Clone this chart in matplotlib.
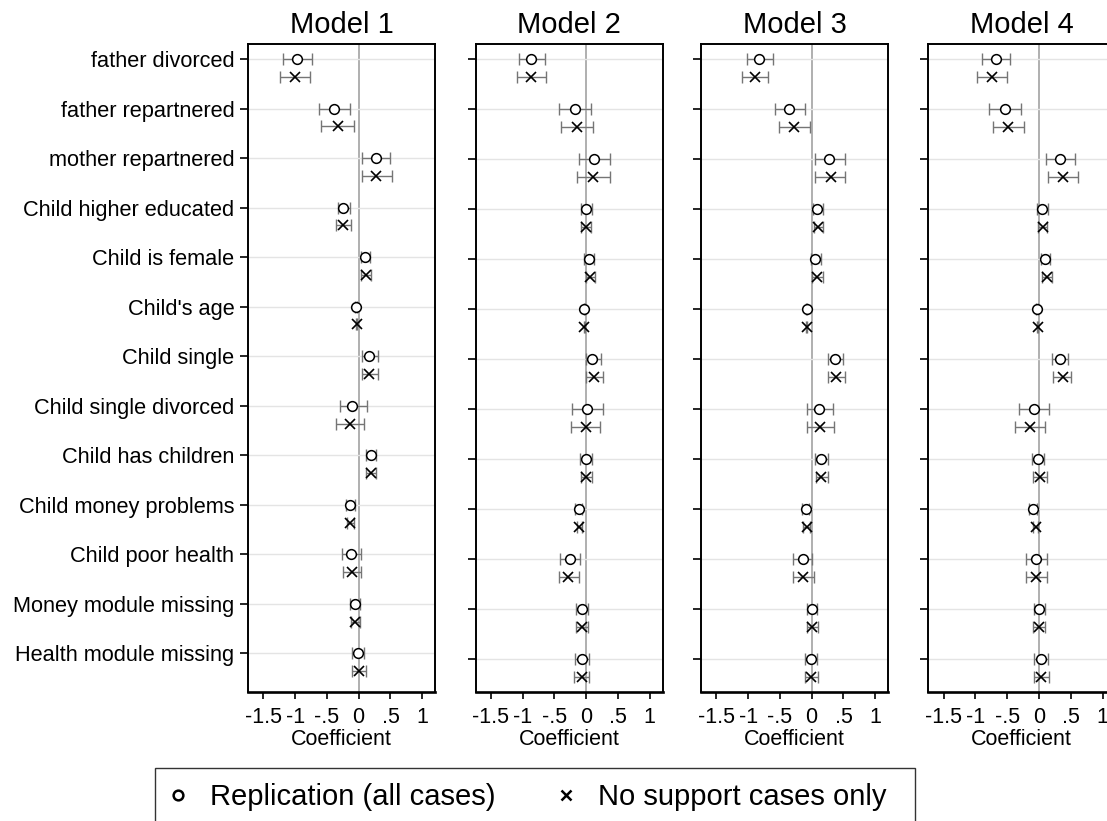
import matplotlib
matplotlib.use("Agg")
import matplotlib.pyplot as plt
from matplotlib.lines import Line2D
from matplotlib.patches import Rectangle
import numpy as np

plt.rcParams['font.family'] = ['Liberation Sans', 'DejaVu Sans']

variables = [
    "father divorced", "father repartnered", "mother repartnered",
    "Child higher educated", "Child is female", "Child's age",
    "Child single", "Child single divorced", "Child has children",
    "Child money problems", "Child poor health", "Money module missing",
    "Health module missing",
]
model_titles = ["Model 1", "Model 2", "Model 3", "Model 4"]
xtick_values = [-1.5, -1, -0.5, 0, 0.5, 1]
xtick_labels = ["-1.5", "-1", "-.5", "0", ".5", "1"]
legend_labels = ["Replication (all cases)", "No support cases only"]

# Model 1 -- replication (all cases)
m1_rep_coef = [-0.97, -0.39, 0.27, -0.24, 0.10, -0.04, 0.17, -0.10, 0.19, -0.13, -0.12, -0.06, -0.01]
m1_rep_lo   = [-1.19, -0.63, 0.05, -0.33, 0.03, -0.055, 0.05, -0.30, 0.12, -0.20, -0.26, -0.14, -0.11]
m1_rep_hi   = [-0.74, -0.14, 0.50, -0.14, 0.18, -0.025, 0.30, 0.13, 0.27, -0.06, 0.03, 0.02, 0.09]
# Model 1 -- no support cases only
m1_ns_coef = [-1.00, -0.33, 0.28, -0.24, 0.11, -0.03, 0.17, -0.14, 0.19, -0.13, -0.11, -0.05, 0.00]
m1_ns_lo   = [-1.23, -0.59, 0.05, -0.35, 0.03, -0.04, 0.05, -0.35, 0.11, -0.18, -0.25, -0.12, -0.11]
m1_ns_hi   = [-0.77, -0.07, 0.52, -0.12, 0.19, -0.02, 0.31, 0.08, 0.28, -0.07, 0.03, 0.02, 0.11]

# Model 2
m2_rep_coef = [-0.86, -0.17, 0.13, 0.00, 0.04, -0.03, 0.09, 0.01, -0.01, -0.11, -0.26, -0.07, -0.07]
m2_rep_lo   = [-1.06, -0.42, -0.11, -0.08, -0.04, -0.04, -0.01, -0.23, -0.10, -0.17, -0.41, -0.16, -0.17]
m2_rep_hi   = [-0.64, 0.08, 0.37, 0.09, 0.12, -0.02, 0.23, 0.26, 0.09, -0.06, -0.10, 0.03, 0.04]
m2_ns_coef = [-0.87, -0.15, 0.11, 0.00, 0.06, -0.03, 0.13, -0.01, 0.00, -0.11, -0.28, -0.06, -0.07]
m2_ns_lo   = [-1.09, -0.40, -0.14, -0.08, -0.01, -0.04, 0.00, -0.24, -0.08, -0.15, -0.43, -0.16, -0.19]
m2_ns_hi   = [-0.63, 0.11, 0.37, 0.08, 0.14, -0.02, 0.26, 0.22, 0.09, -0.06, -0.12, 0.03, 0.05]

# Model 3
m3_rep_coef = [-0.83, -0.35, 0.28, 0.09, 0.06, -0.08, 0.36, 0.12, 0.15, -0.09, -0.14, 0.01, -0.01]
m3_rep_lo   = [-1.02, -0.58, 0.06, 0.02, -0.01, -0.09, 0.25, -0.08, 0.06, -0.15, -0.29, -0.08, -0.11]
m3_rep_hi   = [-0.61, -0.10, 0.53, 0.18, 0.15, -0.07, 0.49, 0.33, 0.25, -0.04, 0.00, 0.09, 0.09]
m3_ns_coef = [-0.89, -0.28, 0.30, 0.10, 0.09, -0.08, 0.38, 0.13, 0.15, -0.08, -0.13, 0.01, -0.01]
m3_ns_lo   = [-1.10, -0.51, 0.06, 0.04, 0.01, -0.09, 0.26, -0.07, 0.07, -0.13, -0.29, -0.08, -0.11]
m3_ns_hi   = [-0.68, -0.02, 0.53, 0.18, 0.18, -0.07, 0.52, 0.35, 0.26, -0.03, 0.03, 0.10, 0.10]

# Model 4
m4_rep_coef = [-0.68, -0.54, 0.33, 0.05, 0.10, -0.03, 0.33, -0.08, -0.02, -0.09, -0.04, 0.00, 0.03]
m4_rep_lo   = [-0.90, -0.78, 0.11, -0.03, 0.03, -0.04, 0.20, -0.31, -0.11, -0.15, -0.20, -0.08, -0.08]
m4_rep_hi   = [-0.45, -0.29, 0.56, 0.14, 0.17, -0.02, 0.46, 0.15, 0.08, -0.03, 0.12, 0.09, 0.14]
m4_ns_coef = [-0.74, -0.49, 0.37, 0.06, 0.12, -0.02, 0.37, -0.14, 0.01, -0.05, -0.04, 0.00, 0.03]
m4_ns_lo   = [-0.97, -0.73, 0.14, -0.01, 0.04, -0.03, 0.22, -0.38, -0.10, -0.09, -0.20, -0.09, -0.08]
m4_ns_hi   = [-0.50, -0.24, 0.61, 0.13, 0.21, -0.01, 0.51, 0.10, 0.12, -0.01, 0.12, 0.09, 0.15]

models = [
    ((m1_rep_coef, m1_rep_lo, m1_rep_hi), (m1_ns_coef, m1_ns_lo, m1_ns_hi)),
    ((m2_rep_coef, m2_rep_lo, m2_rep_hi), (m2_ns_coef, m2_ns_lo, m2_ns_hi)),
    ((m3_rep_coef, m3_rep_lo, m3_rep_hi), (m3_ns_coef, m3_ns_lo, m3_ns_hi)),
    ((m4_rep_coef, m4_rep_lo, m4_rep_hi), (m4_ns_coef, m4_ns_lo, m4_ns_hi)),
]

W, H = 1107, 821
fig = plt.figure(figsize=(W / 100, H / 100), dpi=100)
fig.patch.set_facecolor("white")

panel_top, panel_bottom = 44, 692
panel_width = 187
panel_lefts = [248, 475.5, 701, 928.3]
ylims = [(13.78, 0.697), (13.654, 0.70), (13.654, 0.70), (13.654, 0.70)]
offset = 0.36

rows = np.arange(1, len(variables) + 1)
err_color = "#757575"

for i, (title, (rep, ns)) in enumerate(zip(model_titles, models)):
    ax = fig.add_axes([panel_lefts[i] / W, 1 - panel_bottom / H,
                       panel_width / W, (panel_bottom - panel_top) / H])
    ax.set_xlim(-1.74, 1.2)
    ax.set_ylim(*ylims[i])

    ax.set_yticks(rows)
    ax.grid(axis="y", color="#e4e4e4", linewidth=1.0, zorder=0)
    ax.axvline(0, color="#a9a9a9", linewidth=1.3, zorder=1)

    for (coef, lo, hi), ypos, marker in ((rep, rows, "o"), (ns, rows + offset, "x")):
        coef = np.asarray(coef)
        xerr = [coef - np.asarray(lo), np.asarray(hi) - coef]
        ax.errorbar(coef, ypos, xerr=xerr, fmt="none", ecolor=err_color,
                    elinewidth=1.0, capsize=4, capthick=1.0, zorder=2)
        if marker == "o":
            ax.plot(coef, ypos, linestyle="none", marker="o", markersize=7,
                    markerfacecolor="white", markeredgecolor="black",
                    markeredgewidth=1.1, zorder=3)
        else:
            ax.plot(coef, ypos, linestyle="none", marker="x", markersize=6.5,
                    color="black", markeredgewidth=1.2, zorder=3)

    ax.set_xticks(xtick_values)
    ax.set_xticklabels(xtick_labels, fontsize=15.5)
    ax.tick_params(axis="x", length=5, width=1.2, pad=5.5, direction="out")
    ax.tick_params(axis="y", length=5.8, width=1.2, pad=4, direction="out")
    if i == 0:
        ax.set_yticklabels(variables, fontsize=15.7)
    else:
        ax.set_yticklabels([])

    for side in ("left", "right", "top"):
        ax.spines[side].set_linewidth(1.4)
        ax.spines[side].set_color("black")
    ax.spines["bottom"].set_linewidth(1.9)

    ax.set_title(title, fontsize=21, pad=8)
    ax.set_xlabel("Coefficient", fontsize=15.5, labelpad=1)

# Legend
handles = [
    Line2D([], [], linestyle="none", marker="o", markersize=7,
           markerfacecolor="white", markeredgecolor="black", markeredgewidth=1.8),
    Line2D([], [], linestyle="none", marker="x", markersize=6.5,
           color="black", markeredgewidth=1.8),
]
fig.legend(handles, legend_labels, loc="center left",
           bbox_to_anchor=(166.3 / W, 1 - 797 / H), ncol=2, frameon=False,
           fontsize=21, handlelength=0.8, handletextpad=0.7, columnspacing=2.0,
           borderpad=0, borderaxespad=0)
fig.patches.append(Rectangle((155 / W, 1 - 830 / H), (915 - 155) / W, 62 / H,
                             transform=fig.transFigure, fill=False,
                             edgecolor="#333333", linewidth=1.0))

fig.savefig("out.png", dpi=100)
